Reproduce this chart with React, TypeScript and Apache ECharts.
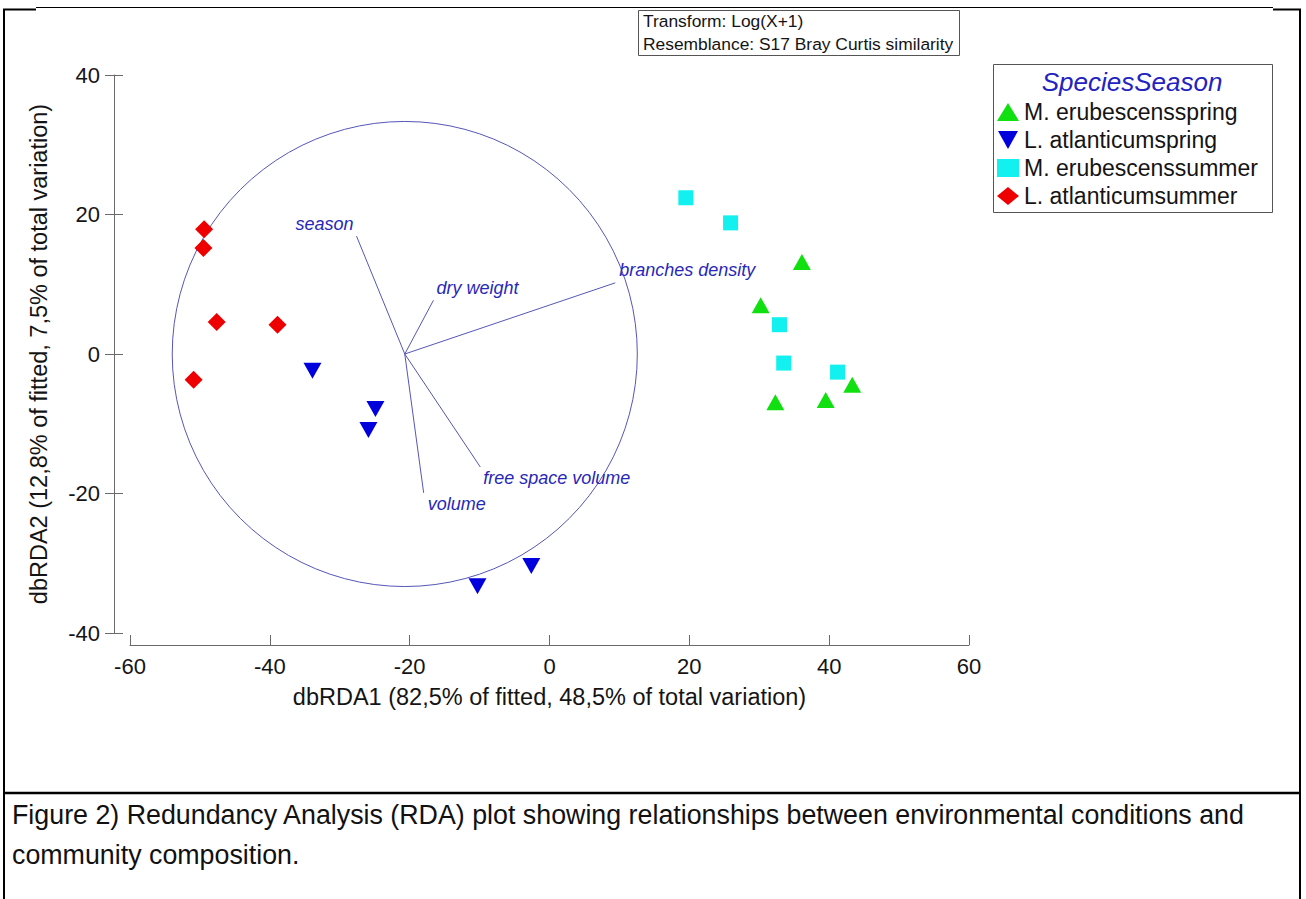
import React, { useEffect, useRef } from "react";
import * as echarts from "echarts";

// ---- data ----
const SERIES_NAMES = [
  "M. erubescensspring",
  "L. atlanticumspring",
  "M. erubescenssummer",
  "L. atlanticumsummer",
];
const M_ERUBESCENS_SPRING: number[][] = [
  [36.1, 13.2],
  [30.2, 7.0],
  [32.3, -6.9],
  [39.5, -6.6],
  [43.3, -4.4],
];
const L_ATLANTICUM_SPRING: number[][] = [
  [-33.9, -2.4],
  [-24.9, -7.9],
  [-25.9, -10.9],
  [-10.3, -33.3],
  [-2.6, -30.4],
];
const M_ERUBESCENS_SUMMER: number[][] = [
  [19.5, 22.4],
  [25.9, 18.8],
  [32.9, 4.2],
  [33.5, -1.3],
  [41.2, -2.6],
];
const L_ATLANTICUM_SUMMER: number[][] = [
  [-49.4, 17.9],
  [-49.5, 15.2],
  [-47.6, 4.6],
  [-38.9, 4.2],
  [-50.9, -3.7],
];
const VECTOR_NAMES = ["season", "dry weight", "branches density", "free space volume", "volume"];
const VECTOR_X = [-27.6, -16.6, 9.4, -9.9, -18.0];
const VECTOR_Y = [16.9, 7.7, 10.2, -16.2, -19.9];
const VECTOR_ORIGIN = [-20.7, 0];
const CIRCLE_RADIUS = 33.3;
const X_RANGE = [-60, 60];
const Y_RANGE = [-40, 40];
const TICK_STEP = 20;

const X_NAME = "dbRDA1 (82,5% of fitted, 48,5% of total variation)";
const Y_NAME = "dbRDA2 (12,8% of fitted, 7,5% of total variation)";
const BOX_LINES = ["Transform: Log(X+1)", "Resemblance: S17 Bray Curtis similarity"];
const LEGEND_TITLE = "SpeciesSeason";
const CAPTION_LINES = [
  "Figure 2) Redundancy Analysis (RDA) plot showing relationships between environmental conditions and",
  "community composition.",
];

// ---- styles ----
const FONT = '"Liberation Sans", Arial, Helvetica, sans-serif';
const AXIS_COLOR = "#6a6a6a";
const TEXT_COLOR = "#141414";
const VECTOR_COLOR = "#5656b8";
const VECTOR_TEXT = "#2828b8";
const LABEL_PLACEMENT = [
  { dx: -3, dy: -12, align: "right" },
  { dx: 3, dy: -12, align: "left" },
  { dx: 4, dy: -13, align: "left" },
  { dx: 3, dy: 11, align: "left" },
  { dx: 4, dy: 11, align: "left" },
];
const DOWN_TRIANGLE = "path://M0,0L10,0L5,9Z";

function baseYAxis(inside: boolean, main: boolean): any {
  return {
    type: "value",
    position: "left",
    min: Y_RANGE[0],
    max: Y_RANGE[1],
    interval: TICK_STEP,
    offset: 16,
    splitLine: { show: false },
    axisLine: { show: main, onZero: false, lineStyle: { color: AXIS_COLOR, width: 1 } },
    axisTick: { show: true, inside, length: 9, lineStyle: { color: AXIS_COLOR, width: 1 } },
    axisLabel: {
      show: main,
      margin: 14,
      fontSize: 22,
      color: TEXT_COLOR,
      fontFamily: FONT,
    },
    name: main ? Y_NAME : "",
    nameLocation: "middle",
    nameRotate: 90,
    nameGap: 63,
    nameTextStyle: { fontSize: 23.5, color: TEXT_COLOR, fontFamily: FONT },
  };
}

export default function App() {
  const ref = useRef<HTMLDivElement>(null);

  useEffect(() => {
    if (!ref.current) return;
    const chart = echarts.init(ref.current, null, { renderer: "svg" });

    const vectorData = VECTOR_X.map((x, i) => [x, VECTOR_Y[i]]);

    const option: any = {
      animation: false,
      backgroundColor: "#ffffff",
      grid: { left: 130, right: 337, top: 75, bottom: 266, containLabel: false },
      xAxis: {
        type: "value",
        min: X_RANGE[0],
        max: X_RANGE[1],
        interval: TICK_STEP,
        offset: 12,
        splitLine: { show: false },
        axisLine: { onZero: false, lineStyle: { color: AXIS_COLOR, width: 1 } },
        axisTick: { inside: true, length: 10, lineStyle: { color: AXIS_COLOR, width: 1 } },
        axisLabel: { margin: 10, fontSize: 22, color: TEXT_COLOR, fontFamily: FONT },
        name: X_NAME,
        nameLocation: "middle",
        nameGap: 40,
        nameTextStyle: { fontSize: 23.5, color: TEXT_COLOR, fontFamily: FONT },
      },
      yAxis: [baseYAxis(false, true), baseYAxis(true, false)],
      legend: {
        orient: "vertical",
        left: 997,
        top: 100,
        padding: 0,
        itemWidth: 22,
        itemHeight: 18,
        itemGap: 4,
        selectedMode: false,
        data: SERIES_NAMES,
        textStyle: { fontSize: 23, color: TEXT_COLOR, fontFamily: FONT, lineHeight: 24 },
      },
      series: [
        {
          name: SERIES_NAMES[0],
          type: "scatter",
          symbol: "triangle",
          symbolSize: [18, 16],
          itemStyle: { color: "#10e010", opacity: 1 },
          data: M_ERUBESCENS_SPRING,
        },
        {
          name: SERIES_NAMES[1],
          type: "scatter",
          symbol: DOWN_TRIANGLE,
          symbolSize: [18, 16],
          itemStyle: { color: "#0000dd", opacity: 1 },
          data: L_ATLANTICUM_SPRING,
        },
        {
          name: SERIES_NAMES[2],
          type: "scatter",
          symbol: "rect",
          symbolSize: 15,
          itemStyle: { color: "#12f0f0", opacity: 1 },
          data: M_ERUBESCENS_SUMMER,
        },
        {
          name: SERIES_NAMES[3],
          type: "scatter",
          symbol: "diamond",
          symbolSize: 18,
          itemStyle: { color: "#ee0000", opacity: 1 },
          data: L_ATLANTICUM_SUMMER,
        },
        {
          name: "circle",
          type: "custom",
          silent: true,
          encode: { x: 0, y: 1 },
          data: [[VECTOR_ORIGIN[0], VECTOR_ORIGIN[1], CIRCLE_RADIUS]],
          renderItem: (params: any, api: any) => {
            const c = api.coord([api.value(0), api.value(1)]);
            const s = api.size([api.value(2), api.value(2)]);
            return {
              type: "circle",
              shape: { cx: c[0], cy: c[1], r: (s[0] + s[1]) / 2 },
              style: { fill: "none", stroke: VECTOR_COLOR, lineWidth: 1 },
            };
          },
        },
        {
          name: "vectors",
          type: "custom",
          silent: true,
          encode: { x: 0, y: 1 },
          data: vectorData,
          renderItem: (params: any, api: any) => {
            const i = params.dataIndex;
            const o = api.coord(VECTOR_ORIGIN);
            const e = api.coord([api.value(0), api.value(1)]);
            const p = LABEL_PLACEMENT[i];
            return {
              type: "group",
              children: [
                {
                  type: "line",
                  shape: { x1: o[0], y1: o[1], x2: e[0], y2: e[1] },
                  style: { stroke: VECTOR_COLOR, lineWidth: 1 },
                },
                {
                  type: "text",
                  x: e[0] + p.dx,
                  y: e[1] + p.dy,
                  style: {
                    text: VECTOR_NAMES[i],
                    fill: VECTOR_TEXT,
                    fontSize: 18,
                    fontStyle: "italic",
                    fontFamily: FONT,
                    align: p.align,
                    verticalAlign: "middle",
                  },
                },
              ],
            };
          },
        },
      ],
      graphic: [
        // frame
        { type: "line", shape: { x1: 4, y1: 9, x2: 4, y2: 899 }, style: { stroke: "#000", lineWidth: 2 } },
        { type: "line", shape: { x1: 1300, y1: 9, x2: 1300, y2: 899 }, style: { stroke: "#000", lineWidth: 2 } },
        { type: "line", shape: { x1: 36, y1: 7.5, x2: 1273, y2: 7.5 }, style: { stroke: "#000", lineWidth: 1 } },
        { type: "line", shape: { x1: 3, y1: 9.5, x2: 36, y2: 9.5 }, style: { stroke: "#000", lineWidth: 2 } },
        { type: "line", shape: { x1: 1273, y1: 9.5, x2: 1301, y2: 9.5 }, style: { stroke: "#000", lineWidth: 2 } },
        { type: "line", shape: { x1: 3, y1: 793, x2: 1301, y2: 793 }, style: { stroke: "#000", lineWidth: 2.5 } },
        // transform box
        {
          type: "rect",
          shape: { x: 638.5, y: 10.5, width: 321, height: 45 },
          style: { fill: "#fff", stroke: "#555", lineWidth: 1 },
        },
        {
          type: "text",
          x: 643,
          y: 21,
          style: { text: BOX_LINES[0], fill: TEXT_COLOR, fontSize: 17.4, fontFamily: FONT, verticalAlign: "middle" },
        },
        {
          type: "text",
          x: 643,
          y: 44,
          style: { text: BOX_LINES[1], fill: TEXT_COLOR, fontSize: 17.4, fontFamily: FONT, verticalAlign: "middle" },
        },
        // legend box + title
        {
          type: "rect",
          shape: { x: 993.5, y: 64.5, width: 279, height: 148 },
          style: { fill: "none", stroke: "#555", lineWidth: 1 },
        },
        {
          type: "text",
          x: 1132,
          y: 82,
          style: {
            text: LEGEND_TITLE,
            fill: "#2323c0",
            fontSize: 26,
            fontStyle: "italic",
            fontFamily: FONT,
            align: "center",
            verticalAlign: "middle",
          },
        },
        // caption
        {
          type: "text",
          x: 12,
          y: 815,
          style: { text: CAPTION_LINES[0], fill: "#111", fontSize: 26.8, fontFamily: FONT, verticalAlign: "middle" },
        },
        {
          type: "text",
          x: 12,
          y: 855,
          style: { text: CAPTION_LINES[1], fill: "#111", fontSize: 26.8, fontFamily: FONT, verticalAlign: "middle" },
        },
      ],
    };

    chart.setOption(option);
    return () => chart.dispose();
  }, []);

  return (
    <div
      ref={ref}
      style={{ position: "absolute", left: 0, top: 0, width: 1306, height: 899, background: "#fff" }}
    />
  );
}
